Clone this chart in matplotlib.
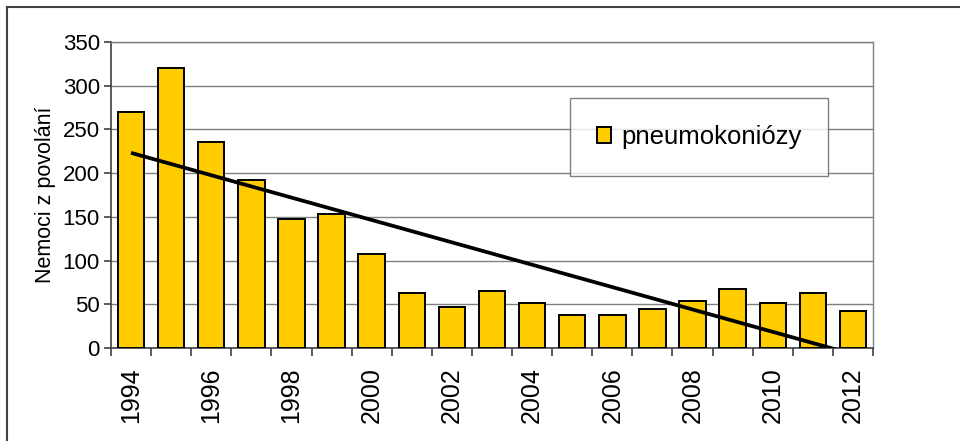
import numpy as np
import matplotlib.pyplot as plt
from matplotlib.lines import Line2D

plt.rcParams['font.family'] = ['Liberation Sans', 'DejaVu Sans']

years = list(range(1994, 2013))
cases = [270, 320, 236, 192, 148, 153, 107, 63, 47, 65, 52, 38, 38, 45, 54, 68, 52, 63, 42]
tick_years = [str(y) if y % 2 == 0 else '' for y in years]
ylabel = 'Nemoci z povolání'
series_name = 'pneumokoniózy'

fig = plt.figure(figsize=(9.6, 4.41), dpi=100)
ax = fig.add_axes([111/960, 1-348/441, (873-111)/960, (348-42)/441])

x = np.arange(len(years))
ax.bar(x, cases, width=0.66, color='#FFCC00', edgecolor='black', linewidth=1.4,
       label=series_name, zorder=3)

# linear trend (Excel style), clipped at the axis
k, q = np.polyfit(x, cases, 1)
ax.plot(x, k*x + q, color='black', linewidth=2.7, zorder=4, solid_capstyle='butt')

ax.set_xlim(-0.5, len(years)-0.5)
ax.set_ylim(0, 350)
ax.set_yticks(np.arange(0, 351, 50))
ax.yaxis.grid(True, color='#808080', linewidth=1.0, zorder=0)
ax.set_axisbelow(True)

ax.set_xticks(x)
ax.set_xticklabels(tick_years, rotation=90, fontsize=18)
ax.set_xticks(np.arange(-0.5, len(years), 1), minor=True)
ax.tick_params(axis='x', which='major', length=0, pad=14)
ax.tick_params(axis='x', which='minor', length=6, width=1.2, color='#404040')
ax.tick_params(axis='y', length=5, width=1.2, color='#404040', labelsize=16, pad=3)
ax.set_ylabel(ylabel, fontsize=15.5, labelpad=5)

for s in ['left', 'bottom']:
    ax.spines[s].set_color('#404040')
    ax.spines[s].set_linewidth(1.2)
for s in ['top', 'right']:
    ax.spines[s].set_color('#808080')
    ax.spines[s].set_linewidth(1.0)

handle = [plt.Rectangle((0, 0), 1, 1, facecolor='#FFCC00', edgecolor='black', linewidth=1.4)]
leg = ax.legend(handle, [series_name], loc='center', bbox_to_anchor=((699-111)/762, (348-137)/306),
                fontsize=18.5, frameon=True, fancybox=False, handlelength=0.55, handleheight=0.55,
                handletextpad=0.4, borderpad=1.05, borderaxespad=0)
leg.get_frame().set_edgecolor('#606060')
leg.get_frame().set_linewidth(1.0)

# outer chart frame (only top and left visible)
fig.add_artist(Line2D([7/960, 7/960], [0, 1-7/441], color='#404040', linewidth=1.5))
fig.add_artist(Line2D([7/960, 1], [1-7/441, 1-7/441], color='#404040', linewidth=1.5))

fig.savefig('out.png', dpi=100)
